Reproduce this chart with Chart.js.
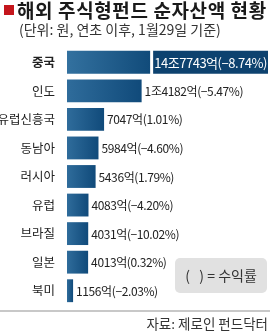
<!DOCTYPE html>
<html>
<head>
<meta charset="utf-8">
<script src="https://cdn.jsdelivr.net/npm/chart.js@4/dist/chart.umd.min.js"></script>
<style>
  html, body { margin: 0; padding: 0; background: #fff; }
  #wrap { position: relative; width: 270px; height: 331px; }
</style>
</head>
<body>
<div id="wrap"><canvas id="chart" width="270" height="331"></canvas></div>
<script>
// Net assets of overseas equity funds by region (unit: 억 won, YTD return in %).
const regions = ['중국', '인도', '유럽신흥국', '동남아', '러시아', '유럽', '브라질', '일본', '북미'];
const assets = [147743, 14182, 7047, 5984, 5436, 4083, 4031, 4013, 1156];
const assetLabels = ['14조7743억', '1조4182억', '7047억', '5984억', '5436억', '4083억', '4031억', '4013억', '1156억'];
const returns = ['−8.74%', '−5.47%', '1.01%', '−4.60%', '1.79%', '−4.20%', '−10.02%', '0.32%', '−2.03%'];

// China's bar is broken: the axis stops well short of it.
const axisMax = 38200;
const breakAt = 15800;

const FONT = '"Noto Sans CJK KR", "Noto Sans", sans-serif';

function barFill(ctx) {
  const chart = ctx.chart;
  const x = chart.scales.x;
  if (!chart.chartArea || !x || ctx.dataIndex === undefined) return '#0f4a7a';
  const x0 = x.getPixelForValue(0);
  const value = assets[ctx.dataIndex];
  const x1 = x.getPixelForValue(Math.min(value, axisMax));
  if (x1 - x0 < 2) return '#0f4a7a';
  const g = chart.ctx.createLinearGradient(x0, 0, x1, 0);
  if (value > axisMax) {
    const xb = x.getPixelForValue(breakAt);
    const f = (xb - x0) / (x1 - x0);
    g.addColorStop(0, '#33719f');
    g.addColorStop(f, '#114b7a');
    g.addColorStop(Math.min(1, f + 0.01), '#0d426f');
    g.addColorStop(1, '#0d426f');
  } else {
    g.addColorStop(0, '#2f6c9b');
    g.addColorStop(1, '#104a7a');
  }
  return g;
}

const decorations = {
  id: 'decorations',
  afterDraw(chart) {
    const ctx = chart.ctx;
    const x = chart.scales.x;
    const meta = chart.getDatasetMeta(0);
    const right = chart.chartArea.right;
    ctx.save();

    // header
    ctx.fillStyle = '#c4161c';
    ctx.fillRect(4, 5, 10, 10);
    ctx.fillStyle = '#1a1a1a';
    ctx.font = 'bold 19px ' + FONT;
    ctx.letterSpacing = '0.6px';
    ctx.textBaseline = 'middle';
    ctx.textAlign = 'left';
    ctx.fillText('해외 주식형펀드 순자산액 현황', 17, 10.5);
    ctx.letterSpacing = '0px';
    ctx.fillStyle = '#333';
    ctx.font = '14px ' + FONT;
    ctx.fillText('(단위: 원, 연초 이후, 1월29일 기준)', 19, 30);

    // break in the China bar + value labels
    meta.data.forEach((bar, i) => {
      const label = assetLabels[i] + '(' + returns[i] + ')';
      if (assets[i] > axisMax) {
        const xb = x.getPixelForValue(breakAt);
        ctx.fillStyle = '#fff';
        ctx.fillRect(xb, bar.y - bar.height / 2 - 1, 3, bar.height + 2);
        ctx.fillStyle = '#fff';
        ctx.font = '13px ' + FONT;
        ctx.letterSpacing = '-0.5px';
        ctx.textAlign = 'center';
        ctx.fillText(label, (xb + 3 + Math.min(bar.x, right)) / 2, bar.y + 0.5);
      } else {
        ctx.fillStyle = '#222';
        ctx.font = '12px ' + FONT;
        ctx.letterSpacing = '-0.4px';
        ctx.textAlign = 'left';
        ctx.fillText(label, bar.x + 3, bar.y + 0.5);
      }
    });
    ctx.letterSpacing = '0px';

    // legend note
    ctx.fillStyle = '#e1e1e1';
    ctx.beginPath();
    ctx.roundRect(175, 258, 92, 35, 5);
    ctx.fill();
    ctx.fillStyle = '#333';
    ctx.font = '14px ' + FONT;
    ctx.textAlign = 'center';
    ctx.fillText('(   ) = 수익률', 221, 276);

    // footer
    ctx.fillStyle = '#c8c8c8';
    ctx.fillRect(0, 310, 270, 2);
    ctx.fillStyle = '#333';
    ctx.font = '13.5px ' + FONT;
    ctx.textAlign = 'right';
    ctx.fillText('자료: 제로인 펀드닥터', 268, 324);
    ctx.restore();
  }
};

new Chart(document.getElementById('chart'), {
  type: 'bar',
  data: {
    labels: regions,
    datasets: [{
      data: assets,
      backgroundColor: barFill,
      borderWidth: 0,
      barPercentage: 0.8,
      categoryPercentage: 1
    }]
  },
  options: {
    indexAxis: 'y',
    responsive: false,
    animation: false,
    layout: { padding: { top: 48, bottom: 26, right: 2, left: 0 } },
    plugins: { legend: { display: false }, tooltip: { enabled: false } },
    scales: {
      x: { display: false, min: 0, max: axisMax },
      y: {
        grid: { display: false },
        border: { display: false },
        afterFit(axis) { axis.width = 67; },
        ticks: {
          padding: 4,
          color: '#222',
          font: (c) => ({ family: FONT, size: 12.5, weight: c.index === 0 ? 'bold' : 'normal' })
        }
      }
    }
  },
  plugins: [decorations]
});
</script>
</body>
</html>
